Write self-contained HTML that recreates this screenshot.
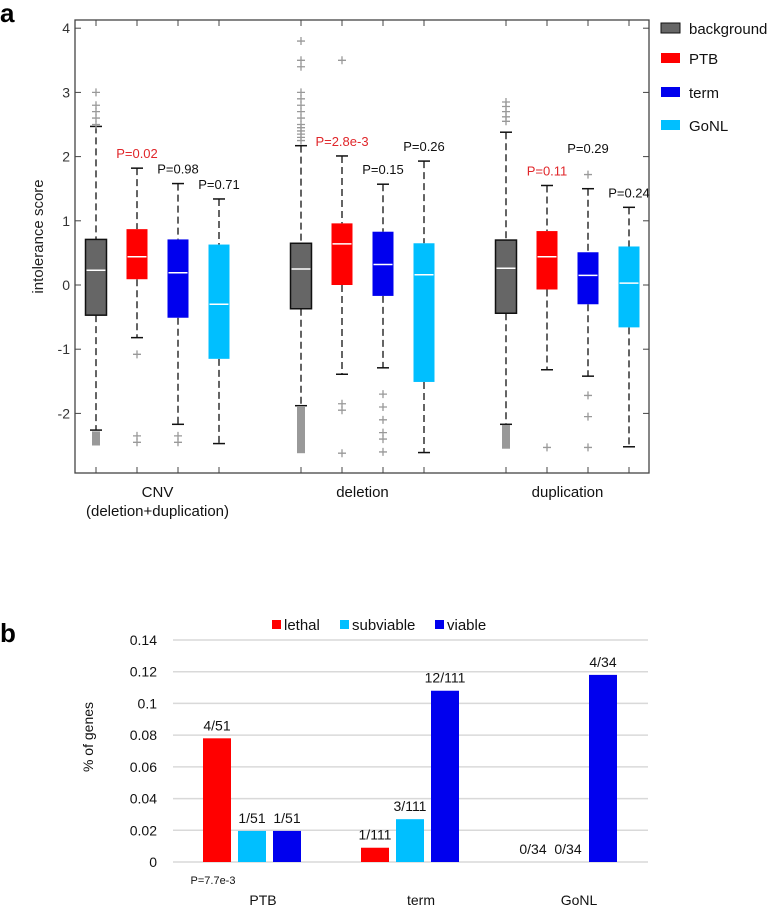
<!DOCTYPE html>
<html><head><meta charset="utf-8">
<style>
html,body{margin:0;padding:0;background:#fff;}
svg{display:block;font-family:"Liberation Sans",Arial,sans-serif;}
</style></head>
<body>
<svg id="fig" width="772" height="908" viewBox="0 0 772 908" xmlns="http://www.w3.org/2000/svg">
<text x="0" y="22" font-size="26" font-weight="bold">a</text>
<text x="0" y="642" font-size="26" font-weight="bold">b</text>
<g id="boxplot"></g>
<g id="barchart"></g>
</svg>
<script>
// ---- Panel a data ----
const groupNames = ["CNV", "deletion", "duplication"];
const seriesNames = ["background", "PTB", "term", "GoNL"];
const q3 = [[0.71,0.87,0.71,0.63],[0.65,0.96,0.83,0.65],[0.70,0.84,0.51,0.60]];
const med = [[0.23,0.44,0.19,-0.30],[0.25,0.64,0.32,0.16],[0.26,0.44,0.15,0.03]];
const q1 = [[-0.47,0.09,-0.51,-1.15],[-0.37,0.00,-0.17,-1.51],[-0.44,-0.07,-0.30,-0.66]];
const whiskTop = [[2.47,1.82,1.58,1.34],[2.17,2.01,1.57,1.93],[2.38,1.55,1.50,1.21]];
const whiskBot = [[-2.26,-0.82,-2.17,-2.47],[-1.88,-1.39,-1.29,-2.61],[-2.17,-1.32,-1.42,-2.52]];
const outliers = [
 [[3.0,2.8,2.7,2.6,2.5],[-1.08,-2.35,-2.45],[-2.35,-2.45],[]],
 [[3.8,3.5,3.4,3.0,2.9,2.8,2.7,2.6,2.5,2.45,2.4,2.35,2.3,2.25],[3.5,-1.85,-1.95,-2.62],[-1.7,-1.9,-2.1,-2.3,-2.4,-2.6],[]],
 [[2.85,2.78,2.7,2.62,2.55],[-2.53],[1.72,-1.72,-2.05,-2.53],[]]
];
const denseLow = [[-2.28,-2.5],[-1.9,-2.62],[-2.18,-2.55]];
const pLabels = [[null,"P=0.02","P=0.98","P=0.71"],[null,"P=2.8e-3","P=0.15","P=0.26"],[null,"P=0.11","P=0.29","P=0.24"]];
const pAnchor = [[null,1.82,1.58,1.34],[null,2.01,1.57,1.93],[null,1.55,1.90,1.21]];
const pSignificant = [[false,true,false,false],[false,true,false,false],[false,true,false,false]];
const yTicksA = [4,3,2,1,0,-1,-2];
const groupLabels = [["CNV","(deletion+duplication)"],["deletion"],["duplication"]];

// ---- Panel b data ----
const barCategories = ["PTB","term","GoNL"];
const barSeries = ["lethal","subviable","viable"];
const lethalVals = [0.078,0.009,0];
const subviableVals = [0.0196,0.027,0];
const viableVals = [0.0196,0.108,0.118];
const barLabels = [["4/51","1/51","1/51"],["1/111","3/111","12/111"],["0/34","0/34","4/34"]];
const yTicksB = [0,0.02,0.04,0.06,0.08,0.1,0.12,0.14];
const yTickTextB = ["0","0.02","0.04","0.06","0.08","0.1","0.12","0.14"];

const NS="http://www.w3.org/2000/svg";
function mk(tag, attrs, parent, txt){
  const e=document.createElementNS(NS,tag);
  for(const k in attrs) e.setAttribute(k,attrs[k]);
  if(txt!==undefined) e.textContent=txt;
  parent.appendChild(e); return e;
}
const colors=["#666666","#ff0000","#0000ee","#00bfff"];

// ---- Panel a ----
const A=document.getElementById('boxplot');
const aL=75,aR=649,aT=20,aB=473;
const yA=v=>285-v*64.2;
const xA=(g,s)=>96+g*205+s*41;
let e;
e=mk('rect',{x:aL,y:aT,width:aR-aL,height:aB-aT,fill:'none',stroke:'#444','stroke-width':1.3},A);


yTicksA.forEach(t=>{
  const y=yA(t);
  e=mk('line',{x1:aL,x2:aL+6,y1:y,y2:y,stroke:'#444'},A);
  
  
  e=mk('line',{x1:aR-6,x2:aR,y1:y,y2:y,stroke:'#444'},A);
  
  
  e=mk('text',{x:aL-5,y:y+5,'font-size':14,'text-anchor':'end',fill:'#333'},A,String(t));
  
  
});
e=mk('text',{x:0,y:0,'font-size':15,'text-anchor':'middle',fill:'#222',transform:`translate(43,${(aT+aB)/2-10}) rotate(-90)`},A,'intolerance score');


groupNames.forEach((gn,g)=>{
  seriesNames.forEach((sn,s)=>{
    const x=xA(g,s),w=21;
    e=mk('line',{x1:x,x2:x,y1:aT,y2:aT+6,stroke:'#444'},A);
    
    
    e=mk('line',{x1:x,x2:x,y1:aB-6,y2:aB,stroke:'#444'},A);
    
    
    const bx=mk('g',{},A);
    
    
    mk('line',{x1:x,x2:x,y1:yA(whiskTop[g][s]),y2:yA(q3[g][s]),stroke:'#111','stroke-width':1.3,'stroke-dasharray':'7,4'},bx);
    mk('line',{x1:x,x2:x,y1:yA(q1[g][s]),y2:yA(whiskBot[g][s]),stroke:'#111','stroke-width':1.3,'stroke-dasharray':'7,4'},bx);
    mk('line',{x1:x-6,x2:x+6,y1:yA(whiskTop[g][s]),y2:yA(whiskTop[g][s]),stroke:'#111','stroke-width':1.5},bx);
    mk('line',{x1:x-6,x2:x+6,y1:yA(whiskBot[g][s]),y2:yA(whiskBot[g][s]),stroke:'#111','stroke-width':1.5},bx);
    mk('rect',{x:x-w/2,y:yA(q3[g][s]),width:w,height:yA(q1[g][s])-yA(q3[g][s]),fill:colors[s],stroke:s===0?'#111':'none','stroke-width':1.5},bx);
    mk('line',{x1:x-w/2+1,x2:x+w/2-1,y1:yA(med[g][s]),y2:yA(med[g][s]),stroke:'#fff','stroke-width':1.5},bx);
    outliers[g][s].forEach(v=>{
      const y=yA(v);
      mk('path',{d:`M${x-4} ${y}H${x+4}M${x} ${y-4}V${y+4}`,stroke:'#999','stroke-width':1.3},bx);
    });
    if(s===0){
      const d=denseLow[g];
      mk('rect',{x:x-4,y:yA(d[0]),width:8,height:yA(d[1])-yA(d[0]),fill:'#999'},bx);
    }
    if(pLabels[g][s]){
      e=mk('text',{x:x,y:yA(pAnchor[g][s])-10,'font-size':13,'text-anchor':'middle',fill:pSignificant[g][s]?'#e0262a':'#111'},A,pLabels[g][s]);
      
      
    }
  });
  const cx=(xA(g,0)+xA(g,3))/2;
  groupLabels[g].forEach((t,i)=>{
    e=mk('text',{x:cx,y:497+i*19,'font-size':15,'text-anchor':'middle',fill:'#111'},A,t);
    
    
  });
});
seriesNames.forEach((sn,s)=>{
  const y=[28,58,92,125][s];
  const lg=mk('g',{},A);
  
  
  mk('rect',{x:661,y:y-5,width:19,height:10,fill:colors[s],stroke:s===0?'#111':'none'},lg);
  mk('text',{x:689,y:y+6,'font-size':15,fill:'#111'},lg,sn);
});

// ---- Panel b ----
const B=document.getElementById('barchart');
const bL=173,bR=648;
const yB=v=>862-v*(222/0.14);
const barColors=["#ff0000","#00bfff","#0000ee"];
const vals=[lethalVals,subviableVals,viableVals];
const xB=(c,s)=>203+c*158+s*35;
yTicksB.forEach((t,i)=>{
  const y=yB(t);
  e=mk('line',{x1:bL,x2:bR,y1:y,y2:y,stroke:'#d9d9d9','stroke-width':1.5},B);
  
  
  e=mk('text',{x:157,y:y+5,'font-size':14,'text-anchor':'end',fill:'#111'},B,yTickTextB[i]);
  
  
});
e=mk('text',{x:0,y:0,'font-size':14,'text-anchor':'middle',fill:'#111',transform:'translate(93,737) rotate(-90)'},B,'% of genes');


barCategories.forEach((cn,c)=>{
  barSeries.forEach((sn,s)=>{
    const v=vals[s][c],x=xB(c,s);
    if(v>0){
      e=mk('rect',{x:x,y:yB(v),width:28,height:yB(0)-yB(v),fill:barColors[s]},B);
      
      
    }
    e=mk('text',{x:x+14,y:yB(v)-8,'font-size':14,'text-anchor':'middle',fill:'#111'},B,barLabels[c][s]);
    
    
  });
  e=mk('text',{x:xB(c,1)+25,y:905,'font-size':14,'text-anchor':'middle',fill:'#111'},B,cn);
  
  
});
e=mk('text',{x:213,y:884,'font-size':11,'text-anchor':'middle',fill:'#111'},B,'P=7.7e-3');


const legX=[272,340,435];
barSeries.forEach((sn,s)=>{
  const lg=mk('g',{},B);
  
  
  mk('rect',{x:legX[s],y:620,width:9,height:9,fill:barColors[s]},lg);
  mk('text',{x:legX[s]+12,y:630,'font-size':15,fill:'#111'},lg,sn);
});
</script>
</body></html>
